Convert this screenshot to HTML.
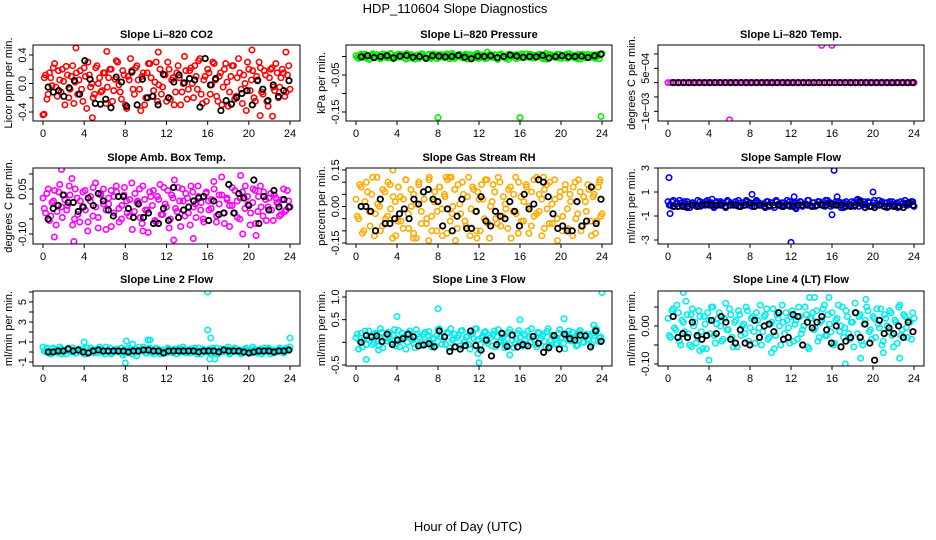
<!DOCTYPE html>
<html><head><meta charset="utf-8"><title>HDP_110604 Slope Diagnostics</title>
<style>
html,body{margin:0;padding:0;background:#fff;}
svg{display:block;font-family:"Liberation Sans",Arial,sans-serif;}
</style></head>
<body>
<svg id="chart" width="936" height="540" viewBox="0 0 936 540" xmlns="http://www.w3.org/2000/svg">
<text x="455" y="13" font-size="13" text-anchor="middle">HDP_110604  Slope Diagnostics</text>
<text x="468" y="531" font-size="13" text-anchor="middle">Hour of Day (UTC)</text>
</svg>
<script>
// ---- Data ----
const xTicks = [0,4,8,12,16,20,24];

const co2Color = [-44,12,-15,8,22,-5,18,-12,3,24,-20,10,-28,15,5,-8,22,-35,12,0,-15,25,8,-10,15,-5,20,-25,6,30,-12,18,-30,10,35,-8,22,5,-38,15,-20,28,8,-10,30,-2,-15,12,-25,20,5,-30,15,8,-12,38,-22,18,0,25,-8,35,-28,10,20,-15,30,5,-25,15,-5,28,-32,10,25,-18,35,-8,12,-38,20,5,-20,10,30,-12,18,-25,8,22,-10,15,-5,20,-18,12,-8];
const co2Color2 = [8,-22,15,-3,28,-18,5,20,-30,12,-8,25,2,-15,18,-25,10,30,-5,-20,22,0,-12,15,-28,8,20,-10,32,-2,-22,12,-35,5,18,-15,25,-8,10,-30,15,28,-18,2,-25,20,-5,12,30,-22,8,-12,25,-30,0,18,-8,22,-20,10,32,-15,5,-25,15,-2,28,-18,10,-30,20,2,-12,25,-22,8,15,-28,0,30,-10,18,-25,5,22,-15,12,-32,20,-5,28,-20,8,15,-12,25,-5];
const co2Black = [-5,-12,-10,-18,-6,4,-15,32,6,-28,-29,-22,-34,9,2,-32,16,-30,6,-20,-18,-30,13,-20,2,12,1,7,5,-33,35,-2,7,-38,-24,-29,-20,-14,-10,-30,4,-8,-24,-2,-18,-10,4];
const co2OutH = [3.2,4.8,6.2,11.2,20.3,21.1,22.3,23.6,0.1];
const co2OutV = [0.5,-0.48,0.45,0.44,0.47,-0.45,-0.46,0.44,-0.43];

const presColor = [2,-5,6,-3,4,-8,3,0,5,-4,7,-2,1,6,-6,3,-1,5,-3,8,-4,2,-7,4,0,6,-2,3,-5,7,4,-3,5,-1,2,-6,8,-2,3,0,-4,6,-1,4,-3,7,-5,2,3,-4,6,-2,5,-8,3,1,-3,-8,-1,4,5,-3,7,-2,0,6,-4,3,-1,5,-6,8,-2,4,0,-3,6,-5,2,7,-1,3,-4,5,-7,6,-2,1,4,-3,5,-6,8];
const presColor2 = [-3,4,-1,6,-5,2,7,-2,3,-6,1,5,-4,8,0,-3,6,-1,4,-7,2,5,-2,3,-5,7,0,-4,6,-1,3,-6,5,2,-3,7,-1,4,-5,1,6,-2,3,-7,5,0,-3,8,-1,4,-6,2,5,-2,3,-4,7,0,-5,6,-1,3,-6,4,2,-3,7,-2,5,-4,1,6,-3,3,-7,5,0,-2,6,-4,2,4,-5,7,-1,3,-6,5,1,-3,6,-2,4,-5,2,7,-1];
const presBlack = [-1,2,-3,0,2,-4,1,3,-2,0,-5,2,1,-1,0,3,-2,-6,1,0,2,-3,0,4,1,-2,0,-1,3,-4,0,2,-1,0,1,-3,2,6];
const presOutH = [8,16,23.9,12.8];
const presOutV = [-0.165,-0.165,-0.162,0.012];

const tempColor = [0,0,0,0,0,0,0,0,0,0,0,0,0,0,0,0,0,0,0,0,0,0,0,0,0,0,0,0,0,0,0,0,0,0,0,0,0,0,0,0,0,0,0,0,0,0,0,0,0,0,0,0,0,0,0,0,0,0,0,0,0,0,0,0,0,0,0,0,0,0,0,0,0,0,0,0,0,0,0,0,0,0,0,0,0,0,0,0,0,0,0,0,0,0,0,0,0];
const tempColor2 = [];
const tempBlack = [0,0,0,0,0,0,0,0,0,0,0,0,0,0,0,0,0,0,0,0,0,0,0,0,0,0,0,0,0,0,0,0,0,0,0,0,0,0,0,0,0,0,0,0,0,0,0];
const tempOutH = [15,16,6];
const tempOutV = [0.0013,0.0013,-0.0013];

const ambColor = [20,-30,50,-40,10,-70,40,-10,30,-20,60,85,-50,20,-60,-10,45,-90,10,-40,70,-80,30,50,-20,0,-75,25,40,-60,-5,55,-30,15,-85,35,10,-45,60,-20,-95,25,45,-60,15,-35,55,-10,-80,30,80,-25,10,50,-40,20,-70,40,0,60,-20,-50,35,10,-15,75,-60,30,90,-30,15,-75,-5,45,-45,20,-100,60,0,-30,50,-65,25,-10,40,-55,20,-20,30,5,-40,15,-25,45,-10];
const ambColor2 = [-15,35,-55,5,45,-25,65,-45,15,-5,30,-70,50,-35,10,40,-20,-60,25,55,-10,-45,35,0,-85,20,45,-30,60,-15,-50,30,10,-40,70,-25,5,50,-65,15,-20,40,-5,-55,25,65,-35,0,45,-50,20,-15,55,-75,10,35,-30,60,-10,-45,25,5,-60,40,-20,15,50,-40,0,30,-65,20,-5,55,-30,10,-50,40,-15,25,-70,5,45,-25,60,-40,15,-10,35,-55,20,0,-35,50,-20,10,-45];
const ambBlack = [-50,-15,-5,30,5,5,-25,-10,20,-5,35,10,-20,-40,25,25,-15,-45,0,-45,-30,-65,-65,-15,-55,55,-45,-20,-10,10,20,25,-55,10,-35,-30,65,-30,35,20,-5,80,-65,25,-20,45,-10,15,-10];
const ambOutH = [1.8,3.0,12.7,14.6,20.7,19.2,1.1,9.7];
const ambOutV = [0.115,-0.125,-0.12,-0.115,-0.105,0.095,-0.11,-0.09];

const rhColor = [3,-5,8,-10,10,-2,5,-12,12,0,-8,6,-4,9,-13,2,-6,4,-9,11,-3,7,-11,1,10,-7,3,-5,12,-10,6,-2,8,-12,4,11,-6,0,-14,9,-3,5,-8,12,-1,7,-10,3,9,-5,11,-13,2,6,-7,10,-4,1,-9,8,-2,12,-11,4,-6,9,0,-8,11,-3,5,-12,7,-1,10,-7,3,-14,6,-4,9,-9,2,8,-5,11,-10,4,-2,7,-12,5,-6,10,-3];
const rhColor2 = [-4,9,-11,2,6,-8,12,-3,1,-10,7,-5,10,-1,4,-12,8,-6,3,11,-9,0,5,-13,9,-2,6,-7,11,-4,2,-10,8,-1,5,-11,12,-3,7,-9,1,10,-6,4,-12,8,-2,6,-10,3,11,-7,0,9,-5,12,-8,4,-1,7,-13,5,-3,10,-6,2,8,-11,6,-4,12,-2,3,-9,9,-7,1,11,-5,4,-10,7,-1,5,-12,10,-3,6,-8,2,9,-6,4,-11,8,-4,1];
const rhBlack = [0,0,-2,-10,3,-7,-7,-5,-3,-1,-5,3,1,6,7,3,2,-8,-1,-10,-4,3,-9,-9,-2,4,-6,-8,-2,-4,-5,2,-2,-8,5,-1,1,11,10,4,-3,-9,-8,-10,-10,2,-8,-6,8,-7,3];
const rhOutH = [3.6,8.8,9.3,5.6,7.1,19.3,18.3,11.8,23.8];
const rhOutV = [0.15,0.12,0.12,-0.13,-0.14,-0.17,0.12,-0.13,0.11];

const sampColor = [2,-1,3,0,-2,1,2,-3,0,1,-1,3,-2,0,2,-1,1,-3,2,0,1,-2,3,-1,0,2,-2,1,-1,3,0,-2,1,2,-1,0,-3,2,1,-1,3,0,-2,1,-1,2,0,-3,1,2,-1,0,3,-2,1,-1,2,0,-2,3,1,-1,0,2,-3,1,0,-1,2,-2,1,3,-1,0,2,-2,1,-1,3,0,-2,1,2,-1,0,-3,2,1,-1,0,2,-2];
const sampColor2 = [-1,2,-2,1,3,-1,0,2,-3,1,0,-2,2,1,-1,3,0,-2,1,-1,2,0,-3,2,1,-1,0,3,-2,1,2,-1,0,-2,3,1,-1,0,2,-2,1,-3,2,0,1,-1,3,-2,0,1,-1,2,-2,0,3,-1,1,-2,2,0,-1,3,1,-2,0,2,-1,1,-3,2,0,-1,1,3,-2,0,2,-1,1,-2,3,0,-1,2,1,-3,0,2,-1,1,-2,0,3,-1,1,2,-2];
const sampBlack = [-2,-2,-2,-2,-1,-2,-1,0,-1,-1,-1,-2,-1,-1,-2,-1,1,-2,-1,-2,-1,-1,-1,-2,-1,-2,-1,-1,-1,-2,-1,-1,-1,0,-1,-1,-2,-2,-1,2,-3,-2,-3,-1,-2,-2,-2,-2,-3,1,-1];
const sampOutH = [0.1,0.2,16.2,16,12,20,8.2,12.3,16.5,4.3,12.5,18.5];
const sampOutV = [2.2,-0.8,2.8,-0.9,-3.2,1.0,0.8,0.6,0.6,0.4,-0.4,0.4];

const l2Color = [5,0,3,-2,4,1,-1,3,2,-2,4,0,2,-1,3,1,-2,4,0,2,-1,3,5,0,-2,2,4,-1,1,3,0,-3,2,4,1,-2,3,0,2,5,-1,1,3,-2,4,0,2,1,-1,3,0,2,-2,4,1,3,0,-1,2,4,-2,1,3,0,2,-1,4,1,-2,3,0,2,5,-1,1,3,0,-2,2,4,1,-1,3,0,2,-2,4,1,3,0,-1,2,4,1,0,3,5];
const l2Color2 = [1,4,-1,3,0,2,5,-2,1,3,0,4,-1,2,1,3,-2,0,4,1,2,-1,3,0,5,1,-2,2,3,0,4,-1,1,2,-2,3,0,5,1,2,-1,4,0,1,3,-2,2,0,4,1,-1,3,2,0,5,-1,1,3,0,2,4,-2,1,0,3,2,-1,4,1,0,2,3,-2,1,4,0,2,-1,3,1,0,5,2,-1,3,0,1,4,-2,2,0,3,1,-1,4,2,0];
const l2Black = [0,0,1,1,3,1,2,0,-1,1,2,1,1,1,1,1,0,1,1,2,2,1,1,-1,1,1,1,1,1,1,0,1,1,1,0,2,1,1,1,0,-1,0,1,1,1,0,1,1,2];
const l2OutH = [16,16,16.3,4,8,8.1,10.2,10.4,16.2,16.7,24,9.1,8.7];
const l2OutV = [6,2.2,1.4,1.0,-1.1,1.1,1.2,1.2,-0.7,-0.7,1.4,-0.4,0.8];

const l3Color = [10,-15,20,5,-5,25,12,0,18,-8,22,10,3,15,-2,28,8,-10,20,12,0,25,5,-12,18,8,-3,22,15,0,10,-8,28,12,5,-5,20,30,8,-10,15,25,0,12,-5,18,8,30,-15,10,22,3,15,-8,25,12,0,18,-12,8,28,5,-3,20,10,-8,15,25,0,12,-5,22,8,18,-10,30,5,12,-5,20,10,-2,15,25,3,10,-8,22,12,0,18,5,-5,15,28,10,5];
const l3Color2 = [18,3,-10,25,8,14,-5,20,2,30,-12,10,22,0,15,-8,26,5,12,-15,20,8,-2,28,12,-6,18,0,24,-10,8,15,30,-4,12,22,-12,5,18,10,-8,26,2,14,-15,20,30,6,-5,15,24,-2,10,18,-10,28,4,12,-6,22,16,-12,8,26,0,18,-4,12,30,6,-10,20,14,2,24,-8,16,8,-2,28,10,-14,18,4,22,12,-6,26,0,15,8,-10,20,30,2,12,18];
const l3Black = [0,15,12,14,2,18,-5,5,8,18,12,-8,-6,-3,-10,25,12,-20,-10,-15,-7,25,-7,-17,5,-30,-5,20,-9,16,-10,-5,-8,13,-2,-22,-12,15,-15,18,8,5,16,14,-10,25,2];
const l3OutH = [4,8,1,12,16,20.3,11.9,15,23.2,2.2,24];
const l3OutV = [0.57,0.74,-0.38,-0.45,0.5,0.52,-0.25,-0.28,0.38,-0.17,1.1];

const l4Color = [20,-30,45,-10,35,-50,10,65,-20,30,0,-45,40,-15,25,-60,15,50,-25,5,35,-40,20,-10,45,-30,10,-55,30,0,-20,40,-5,25,-45,15,55,-15,30,-35,5,45,-25,20,-50,10,35,-5,25,-40,15,50,-20,0,30,-60,20,-10,40,-30,15,55,-25,5,35,-45,20,-15,50,-5,25,-35,10,60,-20,30,-50,15,40,-10,25,-30,5,45,-40,20,-15,35,-55,10,50,-25,30,-5,15,-35,20];
const l4Color2 = [-25,40,-5,55,-40,15,-15,30,-50,45,10,-30,25,-60,5,35,-20,50,-45,20,0,-35,60,-10,30,-55,15,40,-25,5,50,-40,20,-15,35,-5,-50,25,45,-30,10,-60,30,0,55,-20,15,-45,40,5,-35,25,-10,50,-55,20,35,-5,-40,10,45,-25,30,-15,-50,15,55,0,-30,40,-20,10,-55,35,25,-40,5,50,-15,-35,20,45,-5,-50,30,0,40,-25,15,-45,55,-10,25,-30,10,35,-20];
const l4Black = [25,-30,-20,-30,10,-25,-35,-25,15,-20,25,10,-35,-45,-10,-45,-50,15,-30,0,5,-15,35,-35,-30,30,25,-50,10,-5,10,25,-10,-45,0,-55,-40,-30,35,-30,5,-45,-90,15,-20,-5,-20,0,-30,10,-15];
const l4OutH = [1.5,15.7,14.3,10.1,4,17.3,18.8,22.6,2.3,19.3,21,13.8,3.1];
const l4OutV = [0.088,0.075,0.075,-0.07,-0.09,-0.1,-0.085,-0.085,-0.055,0.07,-0.07,0.075,-0.065];

// ---- Layout ----
const NS = "http://www.w3.org/2000/svg";
const svg = document.getElementById('chart');
const cols = [{l:33,r:300,yl:9,tl:23},{l:346,r:612,yl:322,tl:336},{l:658,r:924,yl:632,tl:646}];
const rows = [{t:45,b:121,title:34},{t:168,b:244,title:157},{t:291,b:366,title:279}];

const panels = [
 {name:'co2',title:'Slope Li\u2013820 CO2',ylab:'Licor ppm per min.',col:0,row:0,color:'#ff0000',c:co2Color,c2:co2Color2,cs:0.01,k:co2Black,ks:0.01,oh:co2OutH,ov:co2OutV,
  ya:{v1:0.4,p1:55,v2:-0.4,p2:112},ticks:[-0.4,-0.2,0,0.2,0.4],labels:[[-0.4,'-0.4'],[0,'0.0'],[0.4,'0.4']]},
 {name:'pressure',title:'Slope Li\u2013820 Pressure',ylab:'kPa per min.',col:1,row:0,color:'#00ee00',c:presColor,c2:presColor2,cs:0.001,k:presBlack,ks:0.001,oh:presOutH,ov:presOutV,
  ya:{v1:0,p1:56.5,v2:-0.15,p2:112},ticks:[0,-0.05,-0.1,-0.15],labels:[[-0.05,'-0.05'],[-0.15,'-0.15']]},
 {name:'temp',title:'Slope Li\u2013820 Temp.',ylab:'degrees C per min.',col:2,row:0,color:'#ff00ff',c:tempColor,c2:tempColor2,cs:1,k:tempBlack,ks:1,oh:tempOutH,ov:tempOutV,
  ya:{v1:0.0005,p1:68.3,v2:-0.001,p2:111.3},ticks:[0.001,0.0005,0,-0.0005,-0.001],labels:[[0.0005,'5e\u221204'],[-0.001,'\u22121e\u221203']]},
 {name:'amb-box-temp',title:'Slope Amb. Box Temp.',ylab:'degrees C per min.',col:0,row:1,color:'#ff00ff',c:ambColor,c2:ambColor2,cs:0.001,k:ambBlack,ks:0.001,oh:ambOutH,ov:ambOutV,
  ya:{v1:0.05,p1:189,v2:-0.1,p2:234},ticks:[0.1,0.05,0,-0.05,-0.1],labels:[[0.05,'0.05'],[-0.1,'-0.10']]},
 {name:'gas-rh',title:'Slope Gas Stream RH',ylab:'percent per min.',col:1,row:1,color:'#ffaa00',c:rhColor,c2:rhColor2,cs:0.01,k:rhBlack,ks:0.01,oh:rhOutH,ov:rhOutV,
  ya:{v1:0.15,p1:170,v2:-0.15,p2:243},ticks:[0.15,0.1,0.05,0,-0.05,-0.1,-0.15],labels:[[0.15,'0.15'],[0,'0.00'],[-0.15,'-0.15']]},
 {name:'sample-flow',title:'Slope Sample Flow',ylab:'ml/min per min.',col:2,row:1,color:'#0000ff',c:sampColor,c2:sampColor2,cs:0.1,k:sampBlack,ks:0.1,oh:sampOutH,ov:sampOutV,
  ya:{v1:3,p1:168,v2:-3,p2:240},ticks:[3,1,-1,-3],labels:[[3,'3'],[1,'1'],[-1,'-1'],[-3,'-3']]},
 {name:'line2-flow',title:'Slope Line 2 Flow',ylab:'ml/min per min.',col:0,row:2,color:'#00eeee',c:l2Color,c2:l2Color2,cs:0.1,k:l2Black,ks:0.1,oh:l2OutH,ov:l2OutV,
  ya:{v1:5,p1:302,v2:-1,p2:362},ticks:[6,5,4,3,2,1,0,-1],labels:[[5,'5'],[3,'3'],[1,'1'],[-1,'-1']]},
 {name:'line3-flow',title:'Slope Line 3 Flow',ylab:'ml/min per min.',col:1,row:2,color:'#00eeee',c:l3Color,c2:l3Color2,cs:0.01,k:l3Black,ks:0.01,oh:l3OutH,ov:l3OutV,
  ya:{v1:1,p1:297,v2:-0.5,p2:365},ticks:[1,0.5,0,-0.5],labels:[[1,'1.0'],[0.5,'0.5'],[-0.5,'-0.5']]},
 {name:'line4-flow',title:'Slope Line 4 (LT) Flow',ylab:'ml/min per min.',col:2,row:2,color:'#00eeee',c:l4Color,c2:l4Color2,cs:0.001,k:l4Black,ks:0.001,oh:l4OutH,ov:l4OutV,
  ya:{v1:0.05,p1:307,v2:-0.1,p2:364},ticks:[0.05,0,-0.05,-0.1],labels:[[0,'0.00'],[-0.1,'-0.10']]}
];

function mk(tag, attrs, parent){
  const e = document.createElementNS(NS, tag);
  for (const k in attrs) e.setAttribute(k, attrs[k]);
  (parent||svg).appendChild(e);
  return e;
}

panels.forEach(p=>{
  const C = cols[p.col], R = rows[p.row];
  const g = mk('g',{});
  
  
  const xs = h => C.l + 10 + h*(C.r - C.l - 20)/24;
  const ys = v => p.ya.p1 + (v - p.ya.v1)*(p.ya.p2 - p.ya.p1)/(p.ya.v2 - p.ya.v1);

  const t = mk('text',{x:(C.l+C.r)/2, y:R.title+4, 'font-size':11, 'font-weight':'bold', 'text-anchor':'middle'}, g);
  t.textContent = p.title;
  
  

  const cy = (R.t+R.b)/2;
  const yl = mk('text',{x:C.yl, y:cy, 'font-size':11, 'text-anchor':'middle', transform:`rotate(-90 ${C.yl} ${cy})`, 'dominant-baseline':'middle'}, g);
  yl.textContent = p.ylab;
  
  

  const cid = 'clip-' + p.name;
  const cp = mk('clipPath',{id:cid}, g);
  mk('rect',{x:C.l, y:R.t, width:C.r-C.l, height:R.b-R.t}, cp);
  const pts = mk('g',{'clip-path':`url(#${cid})`, fill:'none', 'stroke-width':1.6}, g);
  
  

  [p.c, p.c2].forEach((arr, ai)=>{
    arr.forEach((v,i)=>{
      const h = (i + ai*0.5)*24/(arr.length-1);
      if (h > 24) return;
      const c = mk('circle',{cx:xs(h), cy:ys(v*p.cs), r:2.7, stroke:p.color}, pts);
      
      
    });
  });
  p.oh.forEach((h,i)=>{
    const c = mk('circle',{cx:xs(h), cy:ys(p.ov[i]), r:2.7, stroke:p.color}, pts);
    
    
  });
  p.k.forEach((v,i)=>{
    const h = 0.5 + i*23.4/(p.k.length-1);
    const c = mk('circle',{cx:xs(h), cy:ys(v*p.ks), r:2.7, stroke:'#000', 'stroke-width':1.8}, pts);
    
    
  });

  const box = mk('rect',{x:C.l, y:R.t, width:C.r-C.l, height:R.b-R.t, fill:'none', stroke:'#000', 'stroke-width':1}, g);
  
  

  const xax = mk('g',{}, g);
  
  
  mk('line',{x1:xs(0), x2:xs(24), y1:R.b, y2:R.b, stroke:'#000'}, xax);
  xTicks.forEach(h=>{
    mk('line',{x1:xs(h), x2:xs(h), y1:R.b, y2:R.b+4, stroke:'#000'}, xax);
    const tl = mk('text',{x:xs(h), y:R.b+16, 'font-size':11, 'text-anchor':'middle'}, xax);
    tl.textContent = String(h);
    
    
  });

  const yax = mk('g',{}, g);
  
  
  p.ticks.forEach(v=>{
    mk('line',{x1:C.l-4, x2:C.l, y1:ys(v), y2:ys(v), stroke:'#000'}, yax);
  });
  p.labels.forEach(([v,s])=>{
    const y = ys(v);
    const tl = mk('text',{x:C.tl, y:y, 'font-size':11, 'text-anchor':'middle', 'dominant-baseline':'middle', transform:`rotate(-90 ${C.tl} ${y})`}, yax);
    tl.textContent = s;
    
    
  });
});
</script>
</body></html>
